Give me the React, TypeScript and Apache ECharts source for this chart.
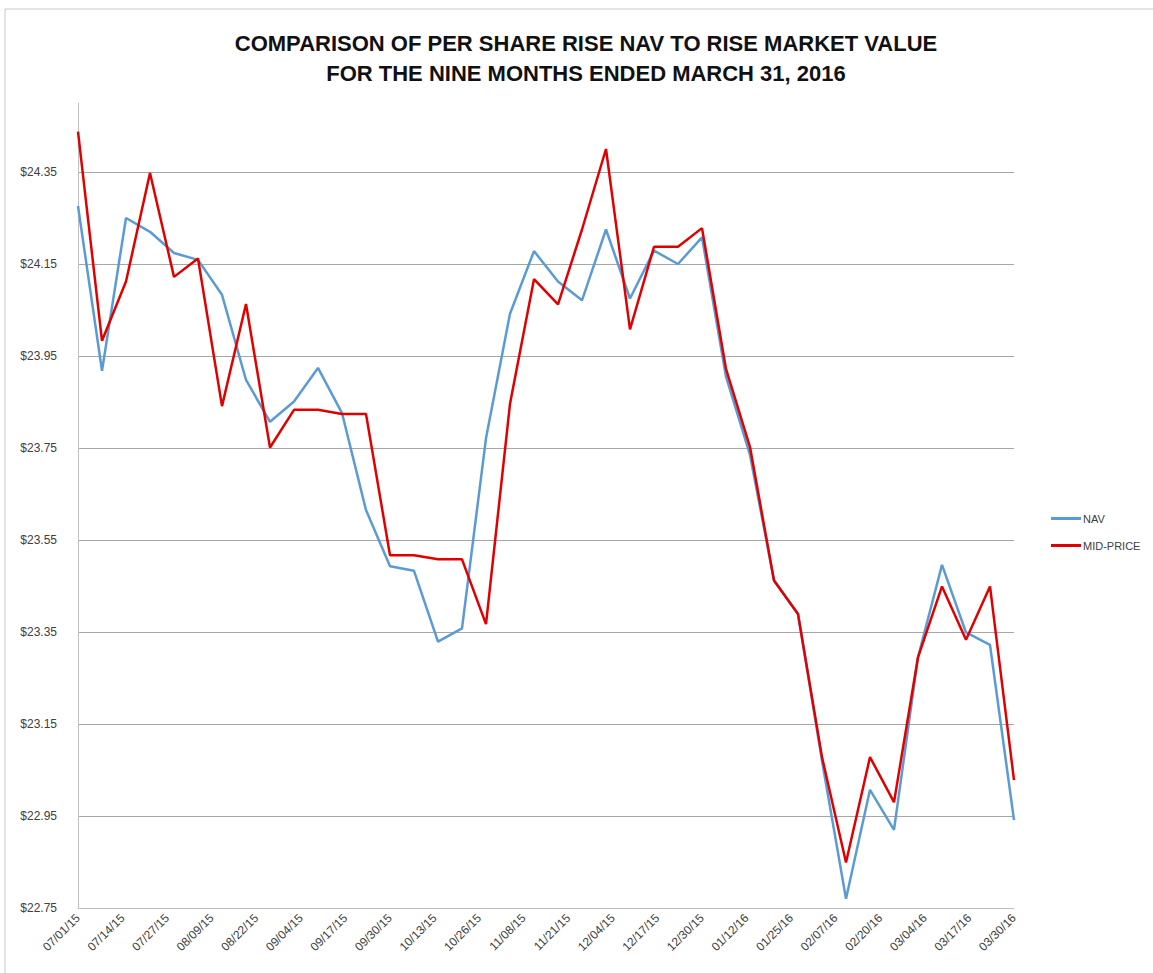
import React, { useEffect, useRef } from "react";
import * as echarts from "echarts";

const dates = [
  "07/01/15", "07/08/15", "07/15/15", "07/22/15", "07/29/15",
  "08/05/15", "08/12/15", "08/19/15", "08/26/15",
  "09/02/15", "09/09/15", "09/16/15", "09/23/15", "09/30/15",
  "10/07/15", "10/14/15", "10/21/15", "10/28/15",
  "11/04/15", "11/11/15", "11/18/15", "11/25/15",
  "12/02/15", "12/09/15", "12/16/15", "12/23/15", "12/30/15",
  "01/06/16", "01/13/16", "01/20/16", "01/27/16",
  "02/03/16", "02/10/16", "02/17/16", "02/24/16",
  "03/02/16", "03/09/16", "03/16/16", "03/23/16", "03/30/16",
];

const nav = [
  24.276, 23.918, 24.25, 24.22, 24.174, 24.159, 24.083, 23.898, 23.807, 23.851,
  23.924, 23.826, 23.615, 23.493, 23.483, 23.329, 23.358, 23.771, 24.042, 24.178,
  24.112, 24.071, 24.225, 24.075, 24.179, 24.15, 24.208, 23.905, 23.735, 23.462,
  23.389, 23.07, 22.77, 23.007, 22.92, 23.295, 23.496, 23.349, 23.322, 22.941,
];

const midPrice = [
  24.438, 23.983, 24.112, 24.348, 24.122, 24.162, 23.841, 24.063, 23.751, 23.833,
  23.833, 23.824, 23.824, 23.517, 23.517, 23.508, 23.508, 23.367, 23.846, 24.117,
  24.062, 24.225, 24.4, 24.008, 24.1875, 24.1875, 24.228, 23.922, 23.752, 23.462,
  23.389, 23.078, 22.849, 23.078, 22.98, 23.295, 23.449, 23.333, 23.449, 23.028,
];

const seriesNames = ["NAV", "MID-PRICE"];
const titleLines = [
  "COMPARISON OF PER SHARE RISE NAV TO RISE MARKET VALUE",
  "FOR THE NINE MONTHS ENDED MARCH 31, 2016",
];
const yMin = 22.75;
const yMax = 24.5;
const yStep = 0.2;
const xTickDays = 13;

const DAY = 86400000;
const parseDate = (s: string) => {
  const [m, d, y] = s.split("/").map(Number);
  return Date.UTC(2000 + y, m - 1, d);
};
const t0 = parseDate(dates[0]);
const dayOffset = (s: string) => Math.round((parseDate(s) - t0) / DAY);
const pad = (n: number) => (n < 10 ? "0" + n : "" + n);
const fmtDay = (v: number) => {
  const d = new Date(t0 + Math.round(v) * DAY);
  return `${pad(d.getUTCMonth() + 1)}/${pad(d.getUTCDate())}/${pad(d.getUTCFullYear() % 100)}`;
};

export default function App() {
  const ref = useRef<HTMLDivElement>(null);
  useEffect(() => {
    if (!ref.current) return;
    const chart = echarts.init(ref.current, undefined, { renderer: "svg" });
    const xs = dates.map(dayOffset);
    const xMax = xs[xs.length - 1];
    const font = "Liberation Sans, Arial, sans-serif";
    chart.setOption({
      animation: false,
      backgroundColor: "#ffffff",
      textStyle: { fontFamily: font },
      graphic: [
        {
          type: "rect",
          shape: { x: 5, y: 9, width: 1200, height: 1100 },
          style: { fill: "none", stroke: "#c8c8c8", lineWidth: 1 },
          silent: true,
        },
      ],
      title: {
        text: titleLines.join("\n"),
        left: 581,
        top: 23,
        textAlign: "center",
        textStyle: {
          fontFamily: "Liberation Sans Narrow, Arial Narrow, sans-serif",
          fontWeight: "bold",
          fontSize: 22,
          lineHeight: 30,
          color: "#111111",
        },
      },
      legend: {
        orient: "vertical",
        left: 1046,
        top: 508,
        itemWidth: 30,
        itemHeight: 3,
        itemGap: 16,
        icon: "rect",
        textStyle: { fontSize: 11, color: "#404040", padding: [0, 0, 0, -3] },
        data: seriesNames,
      },
      grid: { left: 78, right: 139, top: 103, bottom: 65 },
      xAxis: {
        type: "value",
        min: 0,
        max: xMax,
        interval: xTickDays,
        axisLine: { show: true, lineStyle: { color: "#bfbfbf", width: 1 } },
        axisTick: { show: false },
        splitLine: { show: false },
        axisLabel: {
          rotate: 45,
          fontSize: 12,
          color: "#404040",
          margin: 8,
          formatter: (v: number) => fmtDay(v),
        },
      },
      yAxis: {
        type: "value",
        min: yMin,
        max: yMax,
        interval: yStep,
        axisLine: { show: true, lineStyle: { color: "#bfbfbf", width: 1 } },
        axisTick: { show: false },
        splitLine: {
          show: true,
          showMaxLine: false,
          showMinLine: false,
          lineStyle: { color: "#a6a6a6", width: 1 },
        },
        axisLabel: {
          fontSize: 12,
          color: "#404040",
          margin: 21,
          showMaxLabel: false,
          formatter: (v: number) => (v > yMax - yStep / 2 ? "" : "$" + v.toFixed(2)),
        },
      },
      series: [
        {
          name: seriesNames[0],
          type: "line",
          data: xs.map((x, i) => [x, nav[i]]),
          showSymbol: false,
          symbol: "none",
          lineStyle: { color: "#5b9bd5", width: 2.5 },
          itemStyle: { color: "#5b9bd5" },
        },
        {
          name: seriesNames[1],
          type: "line",
          data: xs.map((x, i) => [x, midPrice[i]]),
          showSymbol: false,
          symbol: "none",
          lineStyle: { color: "#e00000", width: 2.5 },
          itemStyle: { color: "#e00000" },
        },
      ],
    });
    return () => chart.dispose();
  }, []);
  return (
    <div
      ref={ref}
      style={{ position: "fixed", left: 0, top: 0, width: 1153, height: 973 }}
    />
  );
}
